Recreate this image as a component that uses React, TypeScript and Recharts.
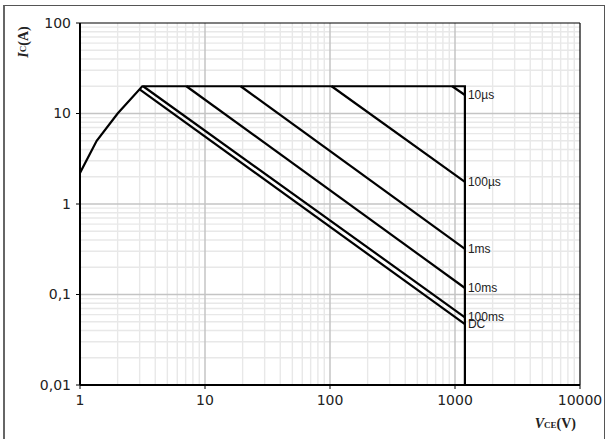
import React from "react";
import {
  LineChart,
  Line,
  XAxis,
  YAxis,
  ReferenceLine,
  LabelList,
} from "recharts";

// axis ticks
const xTicks = [1, 10, 100, 1000, 10000];
const yTicks = [0.01, 0.1, 1, 10, 100];
const minorSteps = [2, 3, 4, 5, 6, 7, 8, 9];

// outer SOA boundary: rising part, 20 A ceiling, 1200 V wall
const boundaryV = [1, 1.36, 2, 3.15, 1200, 1200];
const boundaryI = [2.2, 5, 10, 20, 20, 0.01];

// pulse lines (start point, end point on the 1200 V wall)
const pulseNames = ["10µs", "100µs", "1ms", "10ms", "100ms", "DC"];
const pulseStartV = [950, 103, 19.3, 7.1, 3.2, 3.0];
const pulseStartI = [20, 20, 20, 20, 20, 18.5];
const pulseEndV = [1200, 1200, 1200, 1200, 1200, 1200];
const pulseEndI = [16, 1.76, 0.32, 0.118, 0.056, 0.047];

const boundary = boundaryV.map((v, k) => ({ v, i: boundaryI[k] }));
const pulses = pulseNames.map((name, k) => ({
  name,
  data: [
    { v: pulseStartV[k], i: pulseStartI[k] },
    { v: pulseEndV[k], i: pulseEndI[k] },
  ],
}));

const minorX = xTicks.slice(0, -1).flatMap((d) => minorSteps.map((m) => d * m));
const minorY = yTicks.slice(0, -1).flatMap((d) => minorSteps.map((m) => d * m));

const fmt = (v: number) => String(v).replace(".", ",");

export default function App() {
  return (
    <div
      style={{
        position: "absolute",
        left: 0,
        top: 0,
        width: 609,
        height: 439,
        overflow: "hidden",
        background: "#fff",
      }}
    >
      <div
        style={{
          position: "absolute",
          left: 3,
          top: 5,
          width: 599,
          height: 460,
          borderLeft: "2px solid #666",
          borderTop: "1px solid #555",
          borderRight: "1px solid #555",
        }}
      />
      <LineChart
        width={609}
        height={439}
        margin={{ top: 23, right: 29, bottom: 24, left: 20 }}
        style={{ position: "absolute", left: 0, top: 0 }}
      >
        <XAxis
          dataKey="v"
          type="number"
          scale="log"
          domain={[1, 10000]}
          ticks={xTicks}
          allowDataOverflow
          height={30}
          tickSize={4}
          tickMargin={6}
          axisLine={{ stroke: "#000", strokeWidth: 2 }}
          tickLine={{ stroke: "#000" }}
          tick={{ fill: "#222", fontSize: 14, fontFamily: "DejaVu Sans" }}
          tickFormatter={fmt}
          label={{
            content: (p: any) => (
              <text
                x={p.viewBox.x + p.viewBox.width - 4}
                y={p.viewBox.y + 43}
                textAnchor="end"
                fontFamily="Liberation Serif"
                fontWeight="bold"
                fontSize={14}
                fill="#222"
              >
                <tspan fontStyle="italic">V</tspan>
                <tspan fontSize={9}>CE</tspan>
                <tspan>(V)</tspan>
              </text>
            ),
          }}
        />
        <YAxis
          dataKey="i"
          type="number"
          scale="log"
          domain={[0.01, 100]}
          ticks={yTicks}
          allowDataOverflow
          width={60}
          tickSize={4}
          tickMargin={5}
          axisLine={{ stroke: "#000", strokeWidth: 2 }}
          tickLine={{ stroke: "#000" }}
          tick={{ fill: "#222", fontSize: 14, fontFamily: "DejaVu Sans" }}
          tickFormatter={fmt}
          label={{
            content: (p: any) => (
              <text
                x={23}
                y={42}
                transform="rotate(-90 23 42)"
                textAnchor="middle"
                dominantBaseline="central"
                fontFamily="Liberation Serif"
                fontWeight="bold"
                fontSize={14}
                fill="#222"
              >
                <tspan fontStyle="italic">I</tspan>
                <tspan fontSize={9}>C</tspan>
                <tspan>(A)</tspan>
              </text>
            ),
          }}
        />
        {minorX.map((v) => (
          <ReferenceLine key={"mx" + v} x={v} stroke="#e8e8e8" strokeWidth={1.4} />
        ))}
        {minorY.map((v) => (
          <ReferenceLine key={"my" + v} y={v} stroke="#e8e8e8" strokeWidth={1.4} />
        ))}
        {xTicks.slice(1, -1).map((v) => (
          <ReferenceLine key={"Mx" + v} x={v} stroke="#c4c4c4" strokeWidth={1.5} />
        ))}
        {yTicks.slice(1, -1).map((v) => (
          <ReferenceLine key={"My" + v} y={v} stroke="#c4c4c4" strokeWidth={1.5} />
        ))}
        <ReferenceLine y={100} stroke="#000" strokeWidth={1.2} />
        <ReferenceLine x={10000} stroke="#000" strokeWidth={1.2} />
        <Line
          data={boundary}
          dataKey="i"
          type="linear"
          stroke="#000"
          strokeWidth={2.2}
          dot={false}
          isAnimationActive={false}
        />
        {pulses.map((p) => (
          <Line
            key={p.name}
            data={p.data}
            dataKey="i"
            type="linear"
            stroke="#000"
            strokeWidth={2.2}
            dot={false}
            isAnimationActive={false}
          >
            <LabelList
              dataKey="i"
              content={(lp: any) =>
                lp.index === 1 ? (
                  <text
                    x={lp.x + 3}
                    y={lp.y + 4}
                    fontFamily="Liberation Sans"
                    fontSize={12}
                    fill="#222"
                  >
                    {p.name}
                  </text>
                ) : null
              }
            />
          </Line>
        ))}
      </LineChart>
    </div>
  );
}
